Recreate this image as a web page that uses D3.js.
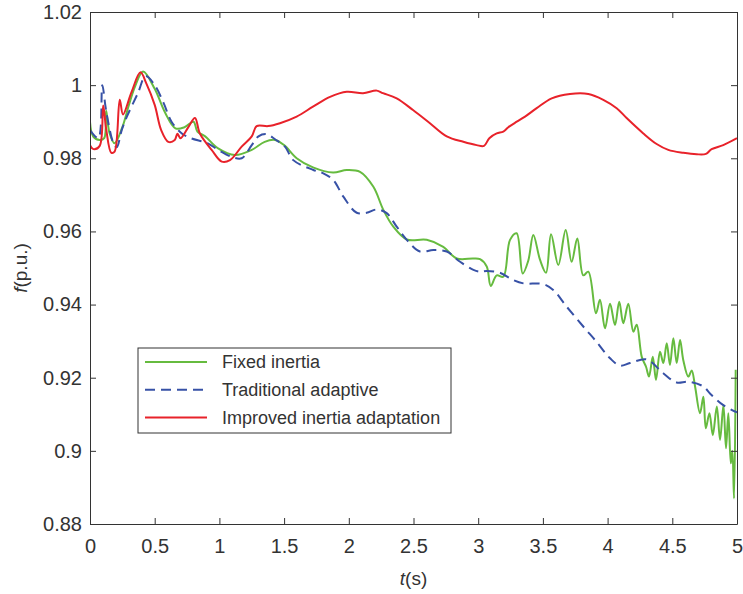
<!DOCTYPE html>
<html>

<head>
    <meta charset='utf-8'>
    <title>Frequency response</title>
    <script type='text/javascript' src='https://cdn.jsdelivr.net/npm/d3@7/dist/d3.min.js'></script>
    <style>
        body { margin: 0; background: #fff; }
        text { font-family: 'Liberation Sans', Arial, sans-serif; }
    </style>
</head>

<body>
    <svg width='743' height='594'></svg>
    <script type='text/javascript'>
        // [t (s), f (p.u.)]
        const fixedInertia = [
            [0, 0.990], [0.025, 0.9859], [0.075, 0.985], [0.11, 0.9855], [0.125, 0.993], [0.15, 0.987],
            [0.19, 0.9841], [0.25, 0.9885], [0.3, 0.9945], [0.35, 0.9998], [0.41, 1.0037], [0.5, 0.999],
            [0.58, 0.9925], [0.66, 0.9882], [0.73, 0.9885], [0.8, 0.990], [0.83, 0.9873], [0.89, 0.986],
            [0.99, 0.9827], [1.12, 0.9809], [1.25, 0.9823], [1.35, 0.9845], [1.43, 0.985], [1.5, 0.9836],
            [1.597, 0.980], [1.723, 0.9775], [1.878, 0.9761], [1.984, 0.9768], [2.087, 0.9763], [2.19, 0.9722],
            [2.267, 0.9659], [2.344, 0.9613], [2.448, 0.9578], [2.602, 0.9577], [2.73, 0.9558], [2.834, 0.9526],
            [2.963, 0.9526], [3.014, 0.9524], [3.066, 0.9504], [3.097, 0.9451], [3.143, 0.948], [3.194, 0.9476],
            [3.246, 0.9577], [3.297, 0.9595], [3.344, 0.9485], [3.387, 0.952], [3.426, 0.959], [3.478, 0.9522],
            [3.524, 0.9487], [3.563, 0.9592], [3.619, 0.9508], [3.676, 0.9604], [3.722, 0.9517], [3.766, 0.9581],
            [3.812, 0.948], [3.851, 0.949], [3.91, 0.9376], [3.941, 0.9413], [3.98, 0.9335], [4.019, 0.9402],
            [4.057, 0.9344], [4.09, 0.9408], [4.121, 0.9349], [4.16, 0.9402], [4.199, 0.9326], [4.225, 0.9345],
            [4.264, 0.9257], [4.297, 0.923], [4.32, 0.9203], [4.349, 0.9257], [4.374, 0.9194], [4.405, 0.9271],
            [4.431, 0.924], [4.457, 0.9294], [4.482, 0.9235], [4.508, 0.9308], [4.534, 0.924], [4.56, 0.9303],
            [4.585, 0.9248], [4.624, 0.9203], [4.65, 0.922], [4.676, 0.9176], [4.714, 0.9103], [4.74, 0.9148],
            [4.759, 0.9062], [4.787, 0.9103], [4.813, 0.9043], [4.844, 0.9121], [4.869, 0.903], [4.895, 0.9125],
            [4.915, 0.9007], [4.933, 0.9103], [4.952, 0.8966], [4.964, 0.900], [4.977, 0.887], [4.99, 0.9222]
        ]
        const traditionalAdaptive = [
            [0, 0.9877], [0.064, 0.9855], [0.095, 1.000], [0.12, 0.9941], [0.14, 0.990], [0.18, 0.9842],
            [0.206, 0.983], [0.245, 0.9877], [0.28, 0.991], [0.37, 0.9978], [0.43, 1.0025], [0.5, 1.000],
            [0.57, 0.995], [0.63, 0.990], [0.71, 0.9868], [0.78, 0.9855], [0.91, 0.9841], [0.99, 0.9823],
            [1.095, 0.9804], [1.172, 0.980], [1.25, 0.9836], [1.302, 0.986], [1.365, 0.9866], [1.43, 0.9852],
            [1.507, 0.9832], [1.571, 0.9795], [1.726, 0.9768], [1.803, 0.9759], [1.881, 0.974], [1.958, 0.9695],
            [2.061, 0.9651], [2.138, 0.9651], [2.216, 0.966], [2.293, 0.965], [2.37, 0.9613], [2.448, 0.9577],
            [2.55, 0.9545], [2.653, 0.9549], [2.757, 0.9545], [2.86, 0.9517], [2.963, 0.9495], [3.014, 0.949],
            [3.066, 0.9492], [3.168, 0.9487], [3.271, 0.9467], [3.349, 0.9458], [3.503, 0.9456], [3.58, 0.944],
            [3.684, 0.9394], [3.812, 0.934], [3.915, 0.9298], [4.019, 0.9253], [4.096, 0.9233], [4.173, 0.924],
            [4.302, 0.925], [4.43, 0.9212], [4.534, 0.9187], [4.624, 0.9189], [4.74, 0.9176], [4.791, 0.9157],
            [4.894, 0.9125], [5.0, 0.9105]
        ]
        const improvedAdaptation = [
            [0, 0.9836], [0.026, 0.9825], [0.075, 0.9834], [0.102, 0.9944], [0.125, 0.988], [0.165, 0.9815],
            [0.19, 0.9818], [0.23, 0.996], [0.255, 0.992], [0.32, 0.998], [0.39, 1.0035], [0.435, 1.0005],
            [0.5, 0.9946], [0.55, 0.9877], [0.605, 0.9845], [0.655, 0.985], [0.675, 0.9867], [0.7, 0.9855],
            [0.76, 0.9885], [0.811, 0.991], [0.85, 0.9867], [0.94, 0.9823], [1.018, 0.9791], [1.082, 0.9795],
            [1.172, 0.9832], [1.25, 0.986], [1.288, 0.9888], [1.376, 0.9888], [1.468, 0.9896], [1.597, 0.9914],
            [1.723, 0.9941], [1.855, 0.9968], [1.984, 0.9982], [2.11, 0.9978], [2.216, 0.9985], [2.264, 0.9978],
            [2.37, 0.9964], [2.496, 0.9932], [2.627, 0.9896], [2.757, 0.986], [2.885, 0.9845], [2.988, 0.9836],
            [3.045, 0.9834], [3.086, 0.9855], [3.143, 0.9868], [3.194, 0.9873], [3.233, 0.9885], [3.298, 0.990],
            [3.362, 0.9914], [3.452, 0.9937], [3.568, 0.9964], [3.709, 0.9976], [3.851, 0.9976], [3.967, 0.996],
            [4.07, 0.9937], [4.147, 0.991], [4.276, 0.9868], [4.379, 0.9839], [4.469, 0.9823], [4.585, 0.9815],
            [4.688, 0.9811], [4.76, 0.9812], [4.804, 0.9825], [4.894, 0.9836], [5.0, 0.9855]
        ]
        const seriesNames = ['Fixed inertia', 'Traditional adaptive', 'Improved inertia adaptation']
        const xTicks = [0, 0.5, 1, 1.5, 2, 2.5, 3, 3.5, 4, 4.5, 5]
        const yTicks = [0.88, 0.9, 0.92, 0.94, 0.96, 0.98, 1, 1.02]

        const svg = d3.select('svg')
        const margin = { left: 90, right: 6, top: 12, bottom: 70 }
        const width = 743 - margin.left - margin.right
        const height = 594 - margin.top - margin.bottom
        const axisColor = '#333'

        const x = d3.scaleLinear().domain([0, 5]).range([0, width])
        const y = d3.scaleLinear().domain([0.88, 1.02]).range([height, 0])

        const g = svg.append('g').attr('transform', `translate(${margin.left},${margin.top})`)

        // 曲线
        const line = d3.line()
            .x(d => x(d[0]))
            .y(d => y(d[1]))
            .curve(d3.curveCatmullRom.alpha(0.5))

        const series = [
            { data: fixedInertia, color: '#66bb3f', dash: null },
            { data: traditionalAdaptive, color: '#3751a6', dash: '10,6' },
            { data: improvedAdaptation, color: '#e8222a', dash: null }
        ]

        g.append('defs').append('clipPath').attr('id', 'clip')
            .append('rect').attr('width', width).attr('height', height)

        g.append('g').attr('clip-path', 'url(#clip)')
            .selectAll('path').data(series)
            .enter().append('path')
            .attr('d', d => line(d.data))
            .attr('fill', 'none')
            .attr('stroke', d => d.color)
            .attr('stroke-width', 2)
            .attr('stroke-dasharray', d => d.dash)

        // 坐标轴，刻度朝内
        const fmt = d => String(d)
        const xAxis = g.append('g').attr('transform', `translate(0,${height})`)
            .call(d3.axisBottom(x).tickValues(xTicks).tickFormat(fmt).tickSizeInner(-6).tickSizeOuter(0).tickPadding(15))
        const xTop = g.append('g')
            .call(d3.axisTop(x).tickValues(xTicks).tickFormat('').tickSizeInner(-6).tickSizeOuter(0))
        const yAxis = g.append('g')
            .call(d3.axisLeft(y).tickValues(yTicks).tickFormat(fmt).tickSizeInner(-6).tickSizeOuter(0).tickPadding(8))
        const yRight = g.append('g').attr('transform', `translate(${width},0)`)
            .call(d3.axisRight(y).tickValues(yTicks).tickFormat('').tickSizeInner(-6).tickSizeOuter(0))

        ;[xAxis, xTop, yAxis, yRight].forEach(a => {
            a.select('.domain').attr('stroke', axisColor)
            a.selectAll('.tick line').attr('stroke', axisColor)
            a.selectAll('.tick text').attr('fill', axisColor).style('font-size', '20px')
        })

        // 坐标轴标签
        const xLabel = svg.append('text')
            .attr('x', margin.left + width / 2)
            .attr('y', 585)
            .attr('text-anchor', 'middle')
            .attr('fill', axisColor)
            .style('font-size', '19px')
        xLabel.append('tspan').attr('font-style', 'italic').text('t')
        xLabel.append('tspan').text('(s)')

        const yLabel = svg.append('text')
            .attr('transform', `translate(27,${margin.top + height / 2}) rotate(-90)`)
            .attr('text-anchor', 'middle')
            .attr('fill', axisColor)
            .style('font-size', '19px')
        yLabel.append('tspan').attr('font-style', 'italic').text('f')
        yLabel.append('tspan').text('(p.u.)')

        // 图例
        const legend = svg.append('g').attr('transform', 'translate(138,348)')
        legend.append('rect')
            .attr('width', 313).attr('height', 85)
            .attr('fill', '#fff').attr('stroke', '#333').attr('stroke-width', 1)
        const rows = legend.selectAll('.row').data(series)
            .enter().append('g')
            .attr('transform', (d, i) => `translate(0,${14 + i * 27.8})`)
        rows.append('line')
            .attr('x1', 7).attr('x2', 69)
            .attr('stroke', d => d.color)
            .attr('stroke-width', 2)
            .attr('stroke-dasharray', d => d.dash)
        rows.append('text')
            .attr('x', 84).attr('y', 0).attr('dy', '0.35em')
            .attr('fill', axisColor)
            .style('font-size', '18px')
            .text((d, i) => seriesNames[i])
    </script>
</body>

</html>
